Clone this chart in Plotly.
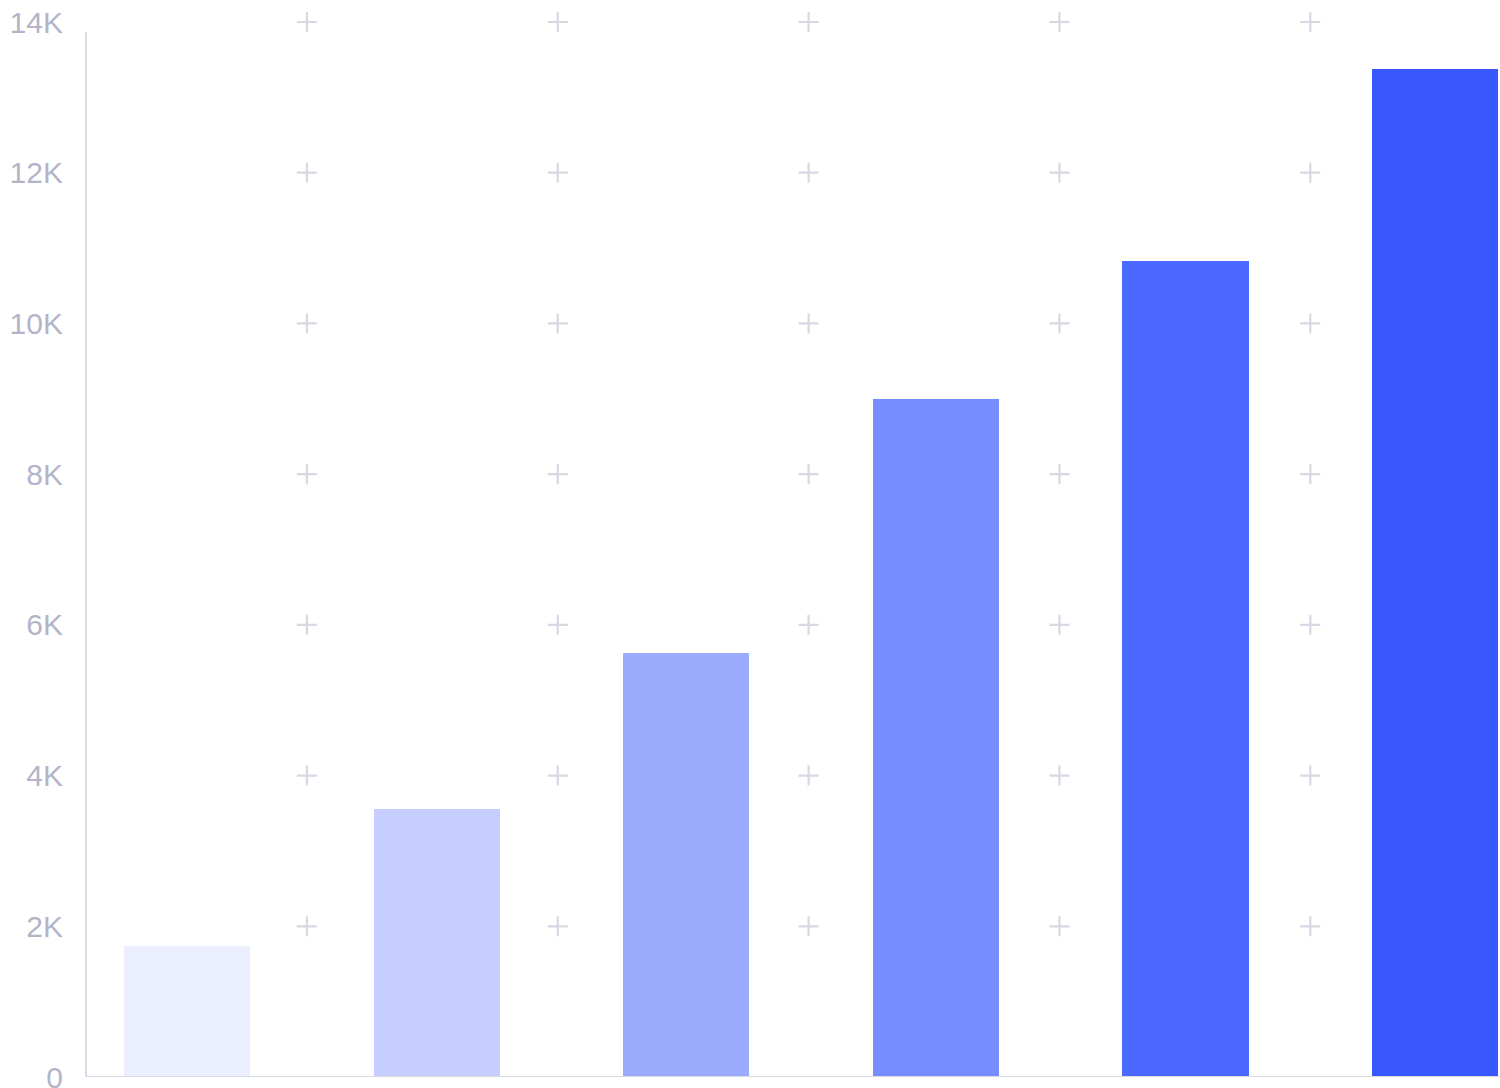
import plotly.graph_objects as go

# data
categories = ["A", "B", "C", "D", "E", "F"]
values = [1740, 3550, 5620, 9000, 10830, 13380]
bar_colors = ["#EBEEFF", "#C5CEFF", "#9BACFF", "#768CFF", "#4B68FF", "#3857FF"]
tick_vals = [0, 2000, 4000, 6000, 8000, 10000, 12000, 14000]
tick_text = ["0", "2K", "4K", "6K", "8K", "10K", "12K", "14K"]
cross_x = [0.48, 1.485, 2.49, 3.495, 4.5]

axis_color = "#D9D9E8"
label_color = "#B4B4C9"

fig = go.Figure()

fig.add_trace(go.Bar(
    x=categories, y=values,
    marker=dict(color=bar_colors, line=dict(width=0)),
    width=0.505,
    hoverinfo="x+y",
))

# little "+" marks at the grid intersections
cx, cy = [], []
for yv in tick_vals[1:]:
    for xv in cross_x:
        cx.append(xv)
        cy.append(yv)
fig.add_trace(go.Scatter(
    x=cx, y=cy, mode="markers", xaxis="x2", cliponaxis=False,
    marker=dict(symbol="cross-thin", size=14.3, line=dict(width=2.2, color="#D8D8E4")),
    hoverinfo="skip",
))

x_range = [-0.405, 5.26]

fig.update_layout(
    width=1500, height=1088,
    margin=dict(l=86, r=0, t=22, b=11),
    paper_bgcolor="white", plot_bgcolor="white",
    showlegend=False,
    bargap=0,
    font=dict(family="Liberation Sans, Arial, sans-serif", color=label_color),
    xaxis=dict(type="category", range=x_range, showticklabels=False, showgrid=False,
               zeroline=False, showline=False, ticks="", automargin=False),
    xaxis2=dict(overlaying="x", range=x_range, visible=False),
    yaxis=dict(range=[0, 14000], tickvals=tick_vals, ticktext=tick_text, showgrid=False,
               zeroline=False, showline=False, ticks="", ticklabelstandoff=22,
               ticklabeloverflow="allow", automargin=False,
               tickfont=dict(size=30, color=label_color)),
)

# axis lines (the vertical one stops a bit short of the top)
fig.add_shape(type="line", xref="paper", yref="y", x0=0, x1=0, y0=0, y1=13870,
              line=dict(color=axis_color, width=2))
fig.add_shape(type="line", xref="paper", yref="y", x0=0, x1=1, y0=0, y1=0,
              line=dict(color=axis_color, width=2))

fig.write_html("out.html", config={"displayModeBar": False},
               post_script="document.body.style.margin='0';")
